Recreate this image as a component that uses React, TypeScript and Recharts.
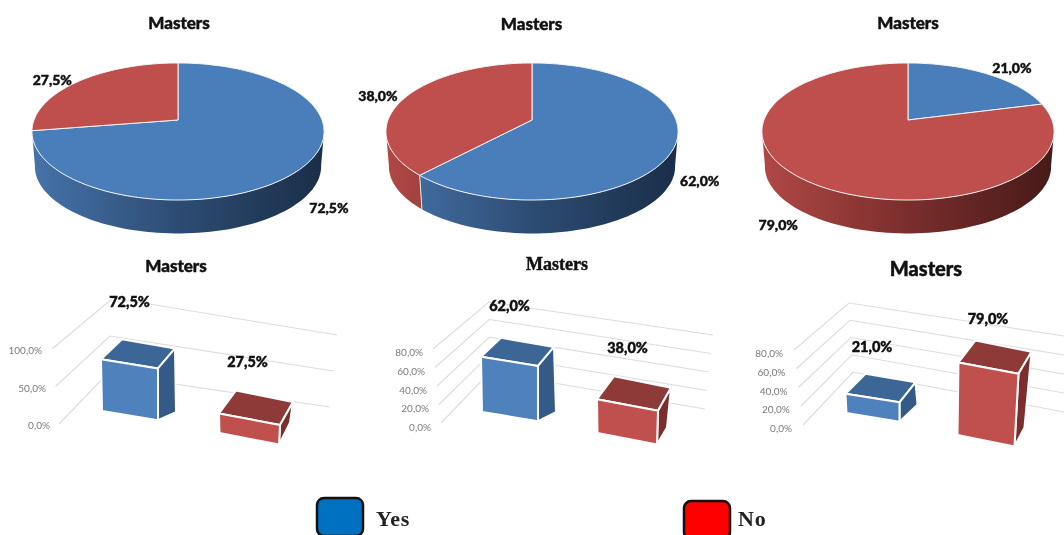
import React from "react";
import { PieChart, Pie, BarChart, Bar, XAxis, YAxis } from "recharts";

// ---------- data ----------
const categories = ["Yes", "No"];
const panelTitle = "Masters";
const valuesA = [72.5, 27.5];
const valuesB = [62.0, 38.0];
const valuesC = [21.0, 79.0];
const ticksA = [0, 50, 100];
const ticksBC = [0, 20, 40, 60, 80];
const legendNames = ["Yes", "No"];

// ---------- styles ----------
const LATO = "Lato, 'Open Sans', sans-serif";
const SERIF = "'Liberation Serif', serif";
const topColor: any = { Yes: "#4a7ebb", No: "#be4f4c" };
const barColor: any = {
  Yes: { front: "#4f81bd", top: "#3c6695", side: "#345a88" },
  No: { front: "#c0504d", top: "#8e3a38", side: "#7c2e2c" },
};
const wallStops: any = {
  Yes: ["#4673aa", "#2d4c73", "#1a2e48"],
  No: ["#b04846", "#7a2e2c", "#461a18"],
};
const legendFill = ["#0070c0", "#ff0000"];
const heavy = { stroke: "#111", strokeWidth: 0.45 };

const fmt = (v: number) => v.toFixed(1).replace(".", ",") + "%";
const toTable = (vals: number[]) => categories.map((name, i) => ({ name, value: vals[i] }));

// ---------- 3D pie ----------
const PERSP = 0.168;
const SQUASH = 0.4625;
const DEPTH = 35;
const BOTTOM_SCALE = 0.98;
const RADIUS = 144;

function project(cx: number, cy: number, r: number, thetaDeg: number, scale = 1, dy = 0) {
  const t = (thetaDeg * Math.PI) / 180;
  const u = Math.sin(t);
  const v = -Math.cos(t);
  const d = 1 - PERSP * v;
  return [cx + (r * scale * u) / d, cy + dy + (r * SQUASH * scale * v) / d];
}
function samples(a: number, b: number) {
  const out: number[] = [];
  const n = Math.max(2, Math.ceil((b - a) / 2));
  for (let i = 0; i <= n; i++) out.push(a + ((b - a) * i) / n);
  return out;
}
const sliceName = (p: any) => p.name ?? p.payload?.name;

function makeWall(panelKey: string) {
  return function Wall(p: any) {
    const a = Math.max(90 - p.startAngle, 99);
    const b = Math.min(90 - p.endAngle, 261);
    if (b <= a) return <g />;
    const angles = samples(a, b);
    const upper = angles.map((t) => project(p.cx, p.cy, p.outerRadius, t));
    const lower = angles
      .slice()
      .reverse()
      .map((t) => project(p.cx, p.cy, p.outerRadius, t, BOTTOM_SCALE, DEPTH));
    const d = "M" + [...upper, ...lower].map((q) => q[0].toFixed(1) + " " + q[1].toFixed(1)).join("L") + "Z";
    const name = sliceName(p);
    const id = `wall-${panelKey}-${name}`;
    const w = p.outerRadius * 1.015;
    return (
      <g>
        <defs>
          <linearGradient id={id} gradientUnits="userSpaceOnUse" x1={p.cx - w} x2={p.cx + w} y1={0} y2={0}>
            <stop offset="0" stopColor={wallStops[name][0]} />
            <stop offset="0.5" stopColor={wallStops[name][1]} />
            <stop offset="1" stopColor={wallStops[name][2]} />
          </linearGradient>
        </defs>
        <path d={d} fill={`url(#${id})`} stroke="none" />
        <path
          d={`M${upper[0][0]} ${upper[0][1]}L${lower[lower.length - 1][0]} ${lower[lower.length - 1][1]}`}
          stroke="#e8e8e8"
          strokeWidth={1}
          strokeOpacity={a > 99 ? 1 : 0}
        />
      </g>
    );
  };
}
function TopFace(p: any) {
  const angles = samples(90 - p.startAngle, 90 - p.endAngle);
  const pts = angles.map((t) => project(p.cx, p.cy, p.outerRadius, t));
  const d = `M${p.cx} ${p.cy}L` + pts.map((q) => q[0].toFixed(1) + " " + q[1].toFixed(1)).join("L") + "Z";
  return <path d={d} fill={topColor[sliceName(p)]} stroke="#f4f4f4" strokeWidth={1} strokeLinejoin="round" />;
}
function makePieLabel(nudges: number[][]) {
  return function PieLabel(p: any) {
    const theta = 90 - p.midAngle;
    const q = project(p.cx, p.cy, p.outerRadius, theta);
    const front = -Math.cos((theta * Math.PI) / 180) > 0;
    const n = nudges[p.index];
    return (
      <text
        x={q[0] + n[0]}
        y={q[1] + (front ? 33 : 0) + n[1]}
        textAnchor="middle"
        dominantBaseline="central"
        fontFamily={LATO}
        fontWeight={900}
        fontSize={14}
        fill="#111"
        {...heavy}
      >
        {fmt(p.value)}
      </text>
    );
  };
}

function Pie3D(props: any) {
  const { k, values, left, width, cx, titleX, titleY, nudges } = props;
  const data = toTable(values);
  const Wall = makeWall(k);
  return (
    <div style={{ position: "absolute", left, top: 0 }}>
      <PieChart width={width} height={250} margin={{ top: 0, right: 0, bottom: 0, left: 0 }}>
        <text x={titleX - left} y={titleY} textAnchor="middle" dominantBaseline="central" fontFamily={LATO} fontWeight={900} fontSize={17} fill="#111" {...heavy}>
          {panelTitle}
        </text>
        <Pie
          data={data}
          dataKey="value"
          nameKey="name"
          cx={cx - left}
          cy={120}
          innerRadius={0}
          outerRadius={RADIUS}
          startAngle={90}
          endAngle={-270}
          isAnimationActive={false}
          shape={Wall}
          legendType="none"
        />
        <Pie
          data={data}
          dataKey="value"
          nameKey="name"
          cx={cx - left}
          cy={120}
          innerRadius={0}
          outerRadius={RADIUS}
          startAngle={90}
          endAngle={-270}
          isAnimationActive={false}
          shape={TopFace}
          label={makePieLabel(nudges)}
          labelLine={false}
        />
      </PieChart>
    </div>
  );
}

// ---------- 3D bars ----------
const lerp = (a: number, b: number, t: number) => a + (b - a) * t;
const SKEWS = [0.16, 0.19];
const NoMark = () => <g />;

function Bars3D(props: any) {
  const { L, values, ticks, max } = props;
  const data = toTable(values);
  const top = 250;
  const height = 220;
  const width = L.right - L.left;

  const BarShape = (p: any) => {
    const i = p.index;
    const name = categories[i];
    const c = barColor[name];
    const x0 = p.x;
    const w = p.width + L.widen[i];
    const h = p.height * L.heightScale;
    const by = p.y + p.height + L.floor[i] - L.zeroY;
    const ty = by - h;
    const skew = w * SKEWS[i];
    const [dx, dy] = L.depth[i];
    const [bdx, bdy] = L.baseDepth[i];
    const P = (pts: number[][]) => pts.map((q) => q.join(",")).join(" ");
    const inset = L.baseInset[i];
    const tl = [x0, ty];
    const tr = [x0 + w, ty + skew];
    const bl = [x0 + 1 - inset / 2, by];
    const br = [x0 + w - inset, by + skew];
    const btl = [x0 + dx + 4, ty + dy];
    const btr = [x0 + w + dx, ty + skew + dy];
    const bbr = [br[0] + bdx, br[1] + bdy];
    const edge = { stroke: "#fff", strokeWidth: 2, strokeLinejoin: "round" as const };
    return (
      <g>
        <polygon points={P([tl, btl, btr, tr])} fill={c.top} {...edge} />
        <polygon points={P([tr, btr, bbr, br])} fill={c.side} {...edge} />
        <polygon points={P([tl, tr, br, bl])} fill={c.front} {...edge} />
      </g>
    );
  };

  const GridTick = (p: any) => {
    const v = p.payload.value;
    const t = v / max;
    const ay = p.y;
    const fx = lerp(L.frontX[0], L.frontX[1], t) - L.left;
    const fy = ay + lerp(L.frontDy[0], L.frontDy[1], t);
    const cx = lerp(L.cornerX[0], L.cornerX[1], t) - L.left;
    const cy = ay + lerp(L.cornerDy[0], L.cornerDy[1], t);
    const ex = lerp(L.endX[0], L.endX[1], t) - L.left;
    const ey = ay + lerp(L.endDy[0], L.endDy[1], t);
    const lx = lerp(L.labelX[0], L.labelX[1], t) - L.left;
    return (
      <g>
        <polyline points={`${fx},${fy} ${cx},${cy} ${ex},${ey}`} fill="none" stroke="#dcdcdc" strokeWidth={1.1} />
        <text x={lx} y={ay + 1} textAnchor="end" dominantBaseline="central" fontFamily={LATO} fontSize={10} fill="#7a7a7a">
          {fmt(v)}
        </text>
      </g>
    );
  };

  const labelFor = (i: number) => {
    const w = L.barSize + L.widen[i];
    const h = values[i] * L.unit * L.heightScale;
    const x0 = L.plotLeft + ((L.plotRight - L.plotLeft) / categories.length) * (i + 0.5) - L.barSize / 2;
    return { x: x0 + w / 2 + L.labelDx[i] - L.left, y: L.floor[i] - h + (w * SKEWS[i]) / 2 - L.lift[i] - top };
  };

  const vertical = { top: L.zeroY - L.unit * max - top, bottom: top + height - L.zeroY };

  return (
    <>
      {/* perspective grid and tick labels lie beneath the bars */}
      <div style={{ position: "absolute", left: L.left, top }}>
        <BarChart width={width} height={height} data={data} margin={{ left: L.plotLeft - L.left - 1, right: L.right - L.plotRight, ...vertical }}>
          <XAxis dataKey="name" hide />
          <YAxis width={1} domain={[0, max]} ticks={ticks} interval={0} axisLine={false} tickLine={false} tick={GridTick} />
          <Bar dataKey="value" isAnimationActive={false} shape={NoMark} />
        </BarChart>
      </div>
      <div style={{ position: "absolute", left: L.left, top }}>
        <BarChart width={width} height={height} data={data} margin={{ left: L.plotLeft - L.left, right: L.right - L.plotRight, ...vertical }}>
          <text x={L.titleX - L.left} y={L.titleY - top} textAnchor="middle" dominantBaseline="central" fontFamily={L.titleFont} fontWeight={L.titleWeight} fontSize={L.titleSize} fill="#111" {...heavy}>
            {panelTitle}
          </text>
          <XAxis dataKey="name" hide />
          <YAxis hide domain={[0, max]} />
          <Bar dataKey="value" barSize={L.barSize} isAnimationActive={false} shape={BarShape} />
          {values.map((v: number, i: number) => {
            const q = labelFor(i);
            return (
              <text key={i} x={q.x} y={q.y} textAnchor="middle" dominantBaseline="central" fontFamily={LATO} fontWeight={900} fontSize={14.5} fill="#111" {...heavy}>
                {fmt(v)}
              </text>
            );
          })}
        </BarChart>
      </div>
    </>
  );
}

const layoutA = {
  left: 0, right: 350, plotLeft: 71, plotRight: 307, zeroY: 424, unit: 0.75, barSize: 58,
  heightScale: 0.95, widen: [-1, 3], floor: [411, 433], depth: [[17, -20], [13, -23]],
  baseDepth: [[18, -8], [11, -22]], baseInset: [0, 1],
  lift: [62, 58], labelDx: [0, -2],
  frontX: [59, 52], frontDy: [0, 0], cornerX: [107, 113], cornerDy: [-50, -51], endX: [330, 337], endDy: [-17, -14], labelX: [50, 42],
  titleX: 176, titleY: 265, titleFont: LATO, titleWeight: 900, titleSize: 17,
};
const layoutB = {
  left: 350, right: 730, plotLeft: 452, plotRight: 684, zeroY: 426, unit: 0.9375, barSize: 58,
  heightScale: 0.95, widen: [-1, 3], floor: [412, 433], depth: [[16, -19], [13, -23]],
  baseDepth: [[18, -9], [10, -17]], baseInset: [0, 1],
  lift: [56, 57], labelDx: [0, 0],
  frontX: [441, 433], frontDy: [-3, -2], cornerX: [490, 489], cornerDy: [-54, -49], endX: [705, 713], endDy: [-17, -16], labelX: [431, 423],
  titleX: 557, titleY: 264, titleFont: SERIF, titleWeight: 700, titleSize: 18,
};
const layoutC = {
  left: 730, right: 1064, plotLeft: 816.5, plotRight: 1042.5, zeroY: 427, unit: 0.9375, barSize: 56,
  heightScale: 0.98, widen: [-2, 4], floor: [413, 435], depth: [[16, -20], [13, -22]],
  baseDepth: [[18, -17], [10, -19]], baseInset: [0, 4],
  lift: [52, 50], labelDx: [0, 0],
  frontX: [803, 794], frontDy: [-2, -2], cornerX: [853, 849], cornerDy: [-55, -49], endX: [1064, 1064], endDy: [-15, -16], labelX: [792, 783],
  titleX: 926, titleY: 268, titleFont: LATO, titleWeight: 900, titleSize: 20,
};

function LegendRow() {
  const xs = [317, 684];
  const ys = [498, 501];
  return (
    <svg width={1064} height={60} style={{ position: "absolute", left: 0, top: 475 }}>
      {legendNames.map((n, i) => (
        <g key={n}>
          <rect x={xs[i]} y={ys[i] - 475} width={46} height={38} rx={7} ry={7} fill={legendFill[i]} stroke="#111" strokeWidth={2.5} />
          <text x={xs[i] + (i === 0 ? 59 : 54)} y={51} fontFamily={SERIF} fontWeight={700} fontSize={22} letterSpacing={0.8} fill="#222">
            {n}
          </text>
        </g>
      ))}
    </svg>
  );
}

export default function App() {
  return (
    <div style={{ position: "absolute", left: 0, top: 0, width: 1064, height: 535, overflow: "hidden", background: "#fff", filter: "blur(0.45px)" }}>
      <Pie3D k="a" values={valuesA} left={0} width={355} cx={178} titleX={179} titleY={22} nudges={[[28, 6], [-27, -2]]} />
      <Pie3D k="b" values={valuesB} left={355} width={380} cx={532} titleX={531.5} titleY={23} nudges={[[25, 1], [-28, -1]]} />
      <Pie3D k="c" values={valuesC} left={735} width={329} cx={908} titleX={908} titleY={22} nudges={[[26, -6], [-28, 11]]} />
      <Bars3D L={layoutA} values={valuesA} ticks={ticksA} max={100} />
      <Bars3D L={layoutB} values={valuesB} ticks={ticksBC} max={80} />
      <Bars3D L={layoutC} values={valuesC} ticks={ticksBC} max={80} />
      <LegendRow />
    </div>
  );
}
